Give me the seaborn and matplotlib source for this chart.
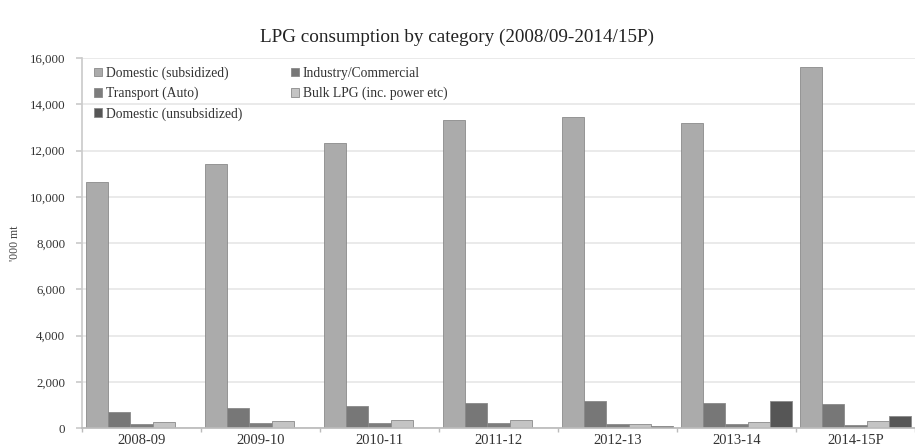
import seaborn as sns
import pandas as pd
import matplotlib.pyplot as plt

#Values ('000 mt)
years = ["2008-09", "2009-10", "2010-11", "2011-12", "2012-13", "2013-14", "2014-15P"]
categories = ["Domestic (subsidized)", "Industry/Commercial", "Transport (Auto)",
              "Bulk LPG (inc. power etc)", "Domestic (unsubsidized)"]
domestic_sub = [10630, 11400, 12330, 13310, 13460, 13200, 15620]
industry = [700, 880, 960, 1080, 1180, 1070, 1050]
transport = [160, 230, 230, 230, 190, 190, 150]
bulk = [270, 290, 330, 330, 190, 270, 315]
domestic_unsub = [0, 0, 0, 0, 100, 1180, 520]
colors = ["#ababab", "#777777", "#7d7d7d", "#c4c4c4", "#565656"]

sns.set_theme(style="white")
plt.rcParams["font.family"] = ["Liberation Serif", "DejaVu Serif"]

#Long form table for seaborn
series = [domestic_sub, industry, transport, bulk, domestic_unsub]
rows = []
for cat, vals in zip(categories, series):
    for yr, v in zip(years, vals):
        rows.append({"Year": yr, "Category": cat, "Value": v})
df = pd.DataFrame(rows)

fig = plt.figure(figsize=(9.15, 4.48), dpi=100)
ax = fig.add_axes([0.0896, 0.0446, 0.9104, 0.8259])

sns.barplot(data=df, x="Year", y="Value", hue="Category", hue_order=categories,
            palette=colors, width=0.94, edgecolor="#8a8a8a", linewidth=0.6,
            saturation=1, ax=ax)

ax.set_xlim(-0.5, 6.413)
ax.set_ylim(0, 16000)
ax.set_yticks(range(0, 16001, 2000))
ax.set_yticklabels([f"{v:,}" for v in range(0, 16001, 2000)])
ax.yaxis.grid(True, color="#e6e6e6", linewidth=1.2)
ax.set_axisbelow(True)
ax.set_xlabel("")
ax.set_ylabel("'000 mt", fontsize=8.5, color="#444444", labelpad=6)

for s in ["top", "right"]:
    ax.spines[s].set_visible(False)
ax.spines["left"].set_color("#cccccc")
ax.spines["bottom"].set_color("#bbbbbb")

#ticks at group separators on the x axis
ax.set_xticks([i + 0.5 for i in range(-1, 7)], minor=True)
ax.tick_params(axis="x", which="major", length=0, labelsize=10.5, colors="#333333", pad=4)
ax.tick_params(axis="x", which="minor", length=3, color="#bbbbbb", bottom=True)
ax.tick_params(axis="y", length=4, color="#cccccc", left=True, labelsize=9.3,
               colors="#333333", pad=8)

#legend laid out row by row like the reference
handles, labels = ax.get_legend_handles_labels()
order = [0, 2, 4, 1, 3]
ax.legend([handles[i] for i in order], [labels[i] for i in order], ncol=2,
          loc="upper left", bbox_to_anchor=(0.0, 1.01), frameon=False,
          fontsize=9.8, handlelength=0.6, handleheight=0.6, handletextpad=0.25,
          columnspacing=3.6, labelspacing=0.5, labelcolor="#333333")

fig.suptitle("LPG consumption by category (2008/09-2014/15P)", x=0.5, y=0.935,
             fontsize=13.8, color="#222222")

fig.savefig("out.png", dpi=100)
